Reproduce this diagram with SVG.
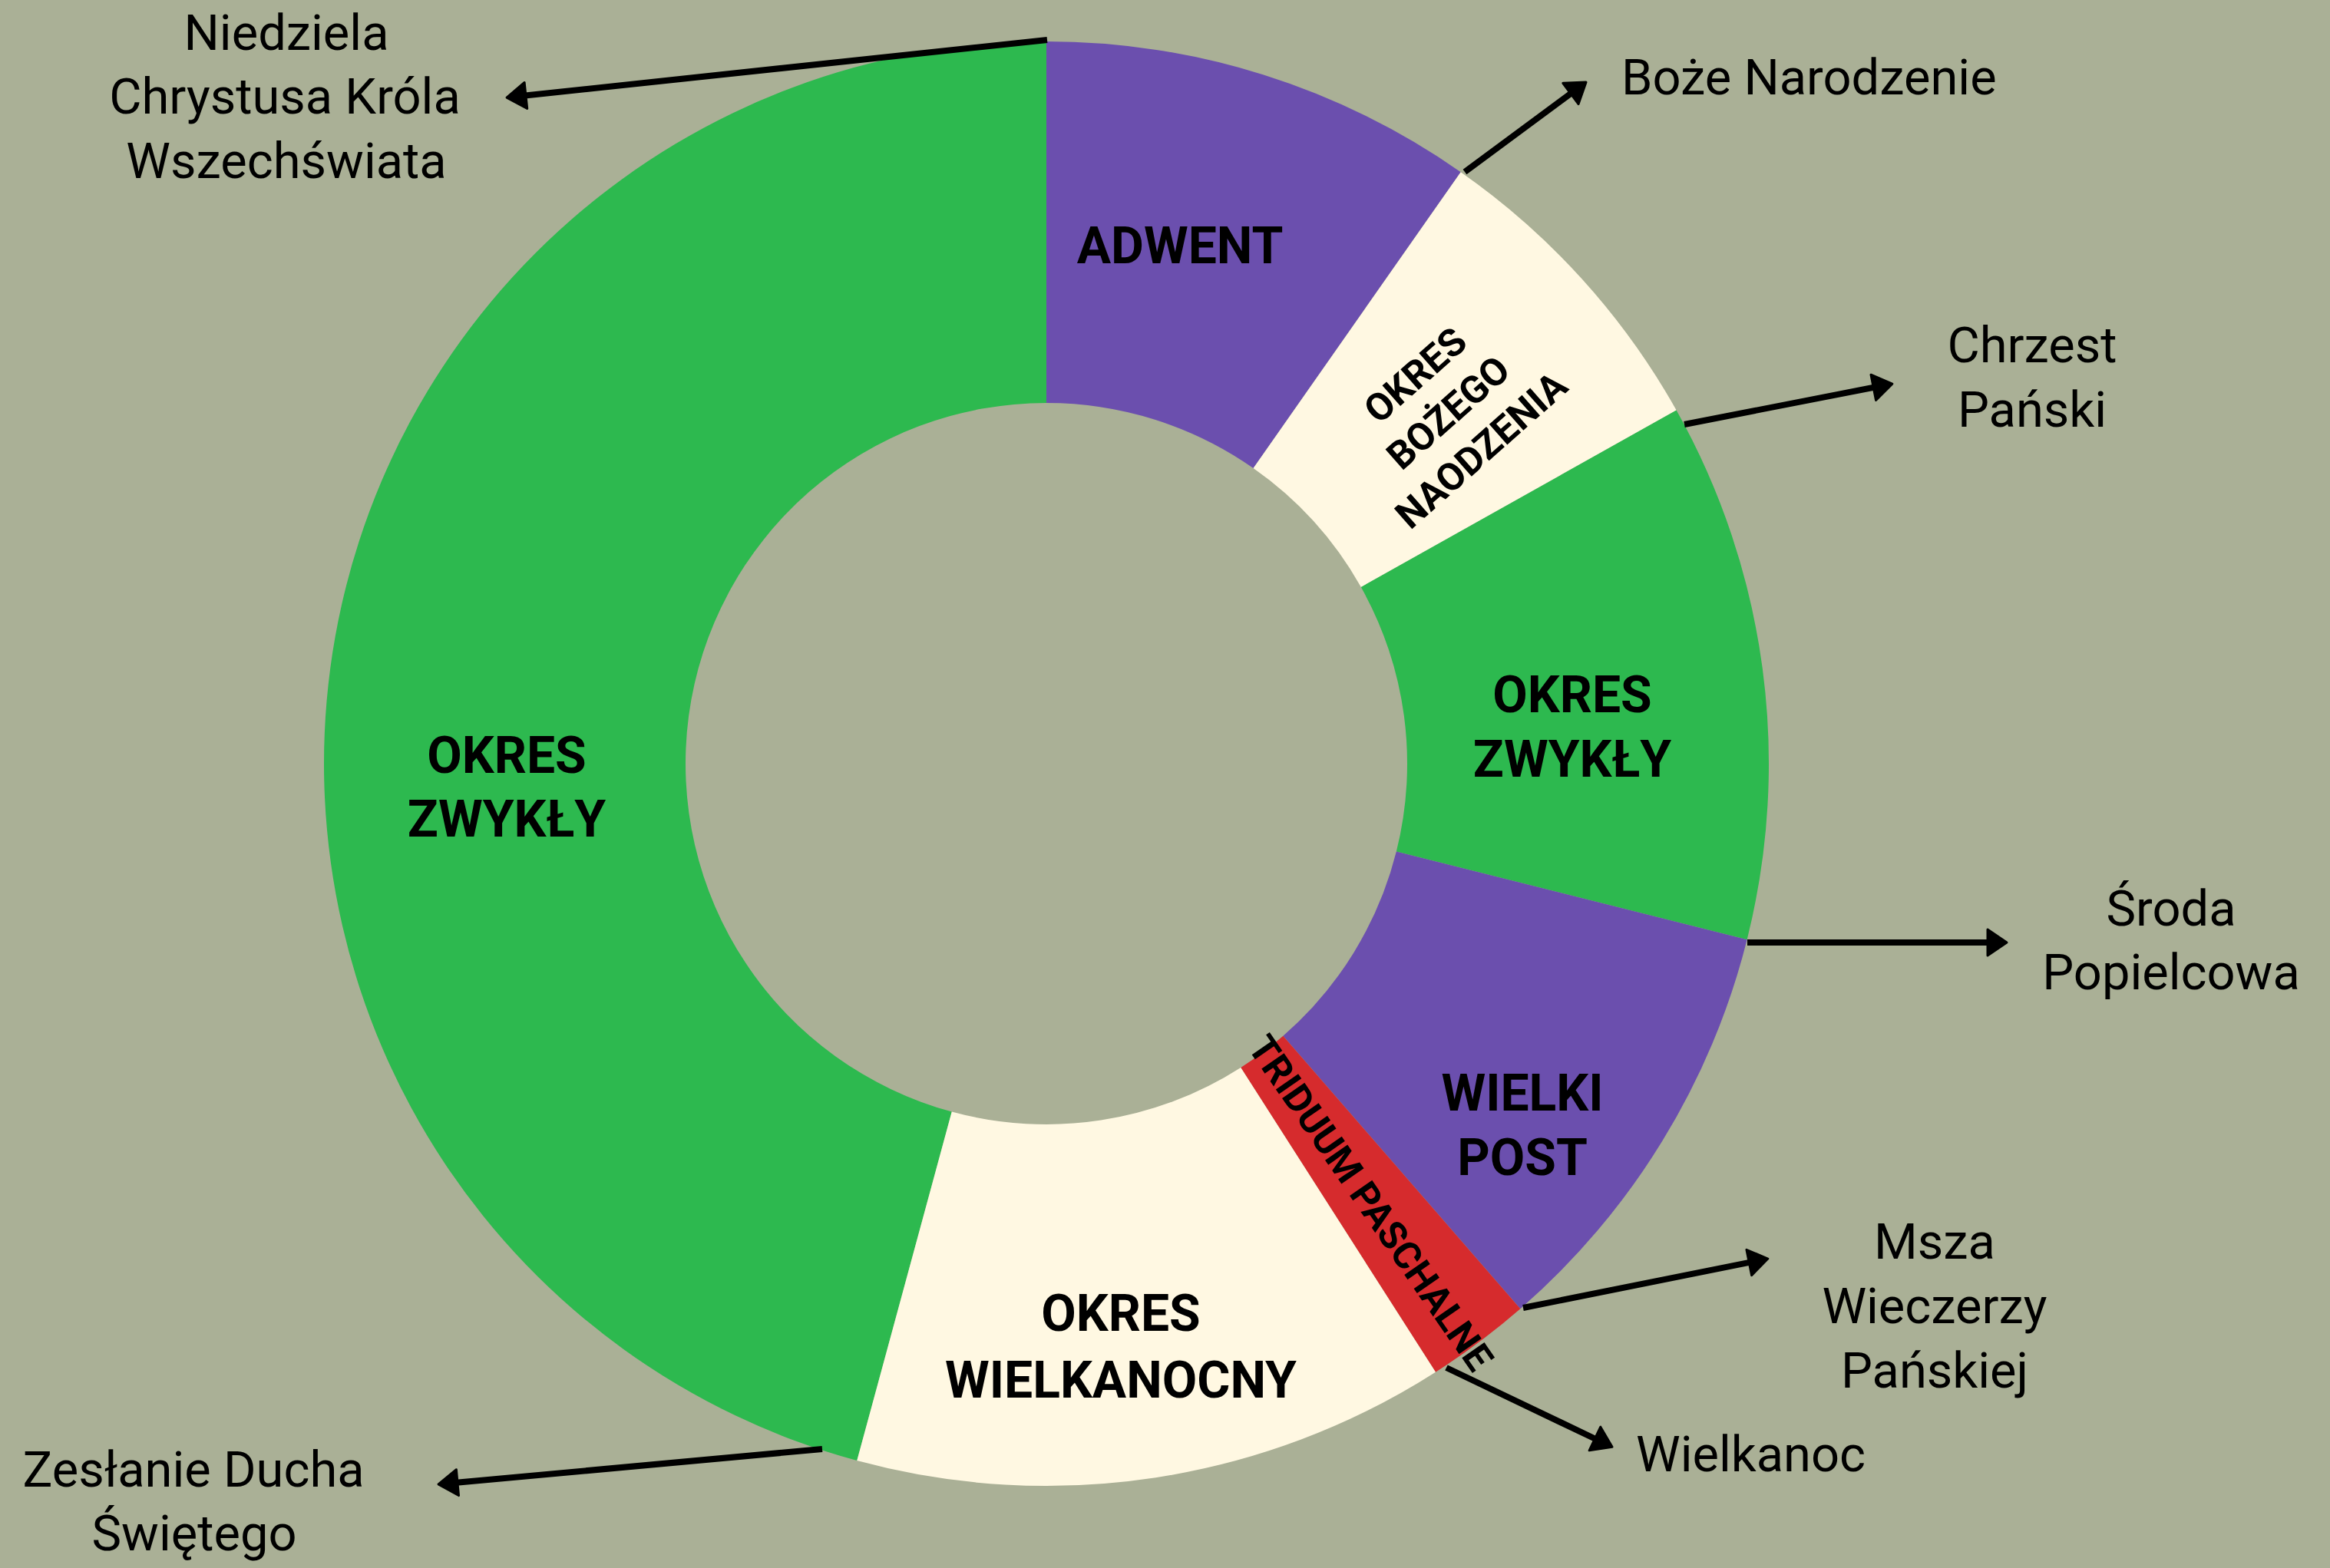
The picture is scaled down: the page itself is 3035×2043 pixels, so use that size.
<svg xmlns="http://www.w3.org/2000/svg" width="3035" height="2043" viewBox="0 0 3035 2043">
<style>
.lbl{font-family:Roboto,"Liberation Sans",sans-serif;font-size:65px;fill:#000;text-anchor:middle}
.seg{font-family:Roboto,"Liberation Sans",sans-serif;font-weight:700;font-size:66px;fill:#000;text-anchor:middle}
.conn{stroke:#000;stroke-width:8;fill:none;marker-end:url(#ah)}
</style>
<defs>
<marker id="ah" markerUnits="userSpaceOnUse" markerWidth="60" markerHeight="60" viewBox="-30 -30 60 60" refX="0" refY="0" orient="auto" overflow="visible">
<path d="M10,0 L-15,-17 L-15,17 Z" fill="#000" stroke="#000" stroke-width="3" stroke-linejoin="round"/>
</marker>
</defs>
<rect x="0" y="0" width="3035" height="2043" fill="#AAB096"/>
<g id="ring">
<g id="okres-zwykly-1"><path d="M1116.28,1903.08 A941,941 0 0 1 1363,54 L1363,525 A470,470 0 0 0 1239.77,1448.56 Z" fill="#2DB94F"/>
<text class="seg" x="660" y="1007">OKRES</text><text class="seg" x="660" y="1090">ZWYKŁY</text></g>
<g id="adwent"><path d="M1363,54 A941,941 0 0 1 1902.74,224.18 L1632.58,610 A470,470 0 0 0 1363,525 Z" fill="#6B4FAE"/>
<text class="seg" x="1537" y="343">ADWENT</text></g>
<g id="okres-bozego-narodzenia"><path d="M1902.74,224.18 A941,941 0 0 1 2183.62,534.49 L1772.87,764.99 A470,470 0 0 0 1632.58,610 Z" fill="#FFF8E2"/>
<g transform="translate(1886,537) rotate(-41.5)"><text class="seg" style="font-size:50px" x="0" y="-47">OKRES</text><text class="seg" style="font-size:50px" x="0" y="18">BOŻEGO</text><text class="seg" style="font-size:50px" x="0" y="83">NAODZENIA</text></g></g>
<g id="okres-zwykly-2"><path d="M2183.62,534.49 A941,941 0 0 1 2275.65,1224.25 L1818.84,1109.5 A470,470 0 0 0 1772.87,764.99 Z" fill="#2DB94F"/>
<text class="seg" x="2048" y="928">OKRES</text><text class="seg" x="2048" y="1012">ZWYKŁY</text></g>
<g id="wielki-post"><path d="M2275.65,1224.25 A941,941 0 0 1 1980.35,1705.18 L1671.35,1349.71 A470,470 0 0 0 1818.84,1109.5 Z" fill="#6B4FAE"/>
<text class="seg" x="1983" y="1447">WIELKI</text><text class="seg" x="1983" y="1531">POST</text></g>
<g id="triduum"><path d="M1980.35,1705.18 A941,941 0 0 1 1869.98,1787.75 L1616.22,1390.95 A470,470 0 0 0 1671.35,1349.71 Z" fill="#D62B2D"/>
<g transform="translate(1786,1567) rotate(55.3)"><text class="seg" style="font-size:50px" x="0" y="18">TRIDUUM PASCHALNE</text></g></g>
<g id="okres-wielkanocny"><path d="M1869.98,1787.75 A941,941 0 0 1 1116.28,1903.08 L1239.77,1448.56 A470,470 0 0 0 1616.22,1390.95 Z" fill="#FFF8E2"/>
<text class="seg" x="1460" y="1734">OKRES</text><text class="seg" x="1460" y="1821">WIELKANOCNY</text></g>
</g>
<g id="connectors">
<path class="conn" d="M1364,52 L670,126"/>
<path class="conn" d="M1908,224 L2058,113"/>
<path class="conn" d="M2194,553 L2455,502"/>
<path class="conn" d="M2276,1228 L2604,1228"/>
<path class="conn" d="M1984,1704 L2293,1642"/>
<path class="conn" d="M1884,1782 L2091,1881"/>
<path class="conn" d="M1071,1888 L581,1933"/>
</g>
<g id="label-niedziela"><text class="lbl" x="373" y="65">Niedziela</text><text class="lbl" x="371" y="148">Chrystusa Króla</text><text class="lbl" x="373" y="232">Wszechświata</text></g>
<g id="label-boze-narodzenie"><text class="lbl" style="text-anchor:start" x="2112" y="123">Boże Narodzenie</text></g>
<g id="label-chrzest"><text class="lbl" x="2647" y="472">Chrzest</text><text class="lbl" x="2647" y="556">Pański</text></g>
<g id="label-sroda"><text class="lbl" x="2828" y="1206">Środa</text><text class="lbl" x="2828" y="1289">Popielcowa</text></g>
<g id="label-msza"><text class="lbl" x="2520" y="1640">Msza</text><text class="lbl" x="2520" y="1724">Wieczerzy</text><text class="lbl" x="2520" y="1808">Pańskiej</text></g>
<g id="label-wielkanoc"><text class="lbl" style="text-anchor:start" x="2131" y="1917">Wielkanoc</text></g>
<g id="label-zeslanie"><text class="lbl" x="252" y="1937">Zesłanie Ducha</text><text class="lbl" x="253" y="2020">Świętego</text></g>
</svg>
